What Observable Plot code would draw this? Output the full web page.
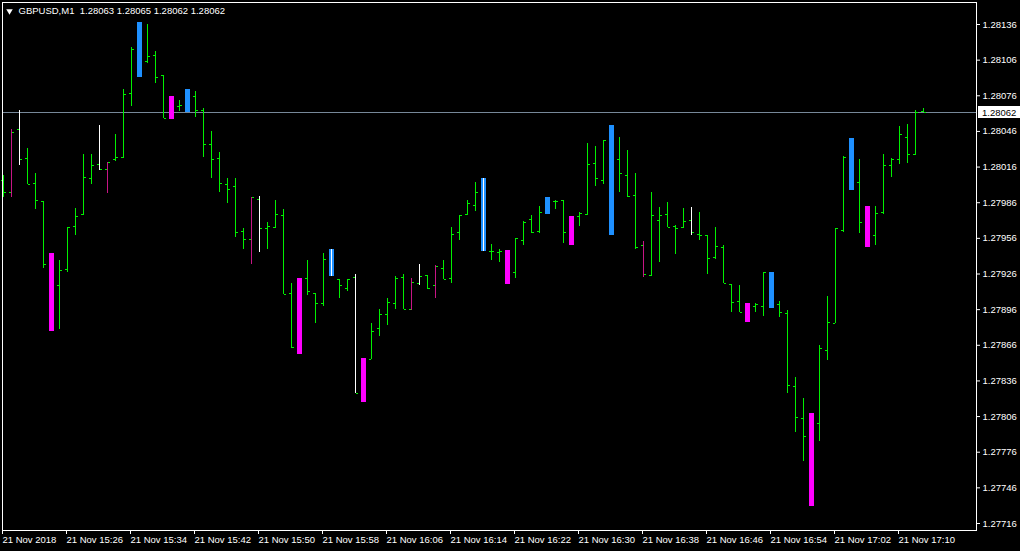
<!DOCTYPE html>
<html><head><meta charset="utf-8">
<script src="https://cdn.jsdelivr.net/npm/d3@7"></script>
<script src="https://cdn.jsdelivr.net/npm/@observablehq/plot@0.6"></script>
<style>html,body{margin:0;padding:0;background:#000;overflow:hidden}</style>
</head><body><div id="chart"></div>
<script>
const symbolName = "GBPUSD,M1";

const open = [
1.28005,1.27995,1.28048,1.28023,1.28002,1.27987,1.27934,1.27916,1.27930,1.27966,
1.27976,1.28006,1.28018,1.28014,1.28022,1.28024,1.28078,1.28115,1.28105,1.28110,
1.28093,1.28070,1.28067,1.28066,1.28075,1.28064,1.28035,1.28023,1.28001,1.28000,
1.27962,1.27955,1.27989,1.27964,1.27965,1.27975,1.27910,1.27870,1.27922,1.27910,
1.27901,1.27938,1.27921,1.27914,1.27923,1.27826,1.27854,1.27880,1.27892,1.27901,
1.27923,1.27896,1.27918,1.27925,1.27916,1.27931,1.27922,1.27961,1.27976,1.27984,
1.27995,1.27945,1.27944,1.27945,1.27927,1.27954,1.27972,1.27962,1.27978,1.27987,
1.27988,1.27961,1.27974,1.27976,1.28019,1.28005,1.28038,1.28022,1.28009,1.27992,
1.27950,1.27925,1.27971,1.27976,1.27966,1.27965,1.27971,1.27959,1.27958,1.27940,
1.27948,1.27917,1.27903,1.27895,1.27899,1.27899,1.27925,1.27900,1.27893,1.27831,
1.27804,1.27789,1.27800,1.27862,1.27884,1.27963,1.28024,1.28003,1.27968,1.27958,
1.27978,1.28017,1.28022,1.28041,1.28027,1.28063];

const high = [
1.28009,1.28048,1.28064,1.28032,1.28011,1.27987,1.27943,1.27937,1.27965,1.27981,
1.28027,1.28027,1.28051,1.28020,1.28043,1.28081,1.28117,1.28138,1.28136,1.28113,
1.28093,1.28075,1.28072,1.28081,1.28080,1.28065,1.28046,1.28028,1.28006,1.28006,
1.27964,1.27990,1.27991,1.27969,1.27988,1.27980,1.27918,1.27922,1.27937,1.27910,
1.27943,1.27947,1.27921,1.27921,1.27926,1.27855,1.27884,1.27896,1.27905,1.27924,
1.27926,1.27922,1.27934,1.27925,1.27933,1.27937,1.27965,1.27975,1.27988,1.28003,
1.28006,1.27951,1.27947,1.27946,1.27956,1.27970,1.27975,1.27983,1.27990,1.27988,
1.27988,1.27974,1.27978,1.28036,1.28033,1.28038,1.28051,1.28041,1.28030,1.28011,
1.27953,1.27995,1.27982,1.27986,1.27967,1.27981,1.27982,1.27978,1.27958,1.27965,
1.27950,1.27917,1.27916,1.27901,1.27901,1.27927,1.27927,1.27903,1.27895,1.27839,
1.27821,1.27809,1.27866,1.27907,1.27964,1.28025,1.28040,1.28022,1.27983,1.27983,
1.28027,1.28023,1.28050,1.28052,1.28064,1.28065];

const low = [
1.27990,1.27990,1.28017,1.28001,1.27980,1.27931,1.27878,1.27879,1.27927,1.27958,
1.27975,1.28001,1.28013,1.27994,1.28021,1.28023,1.28067,1.28091,1.28103,1.28086,
1.28057,1.28056,1.28063,1.28062,1.28058,1.28024,1.28006,1.27995,1.27985,1.27957,
1.27947,1.27934,1.27944,1.27947,1.27964,1.27909,1.27863,1.27858,1.27908,1.27884,
1.27899,1.27924,1.27905,1.27911,1.27825,1.27818,1.27854,1.27873,1.27883,1.27896,
1.27896,1.27895,1.27916,1.27913,1.27905,1.27921,1.27918,1.27954,1.27975,1.27979,
1.27945,1.27937,1.27936,1.27917,1.27922,1.27950,1.27960,1.27960,1.27976,1.27980,
1.27952,1.27950,1.27966,1.27975,1.28000,1.28001,1.27958,1.27995,1.27990,1.27947,
1.27923,1.27924,1.27936,1.27965,1.27942,1.27964,1.27958,1.27954,1.27926,1.27938,
1.27918,1.27894,1.27894,1.27885,1.27894,1.27890,1.27897,1.27889,1.27825,1.27793,
1.27768,1.27730,1.27785,1.27853,1.27884,1.27961,1.27996,1.27960,1.27948,1.27950,
1.27976,1.28007,1.28018,1.28019,1.28026,1.28062];

const close = [
1.27995,1.28045,1.28022,1.28001,1.27988,1.27934,1.27916,1.27929,1.27965,1.27974,
1.28007,1.28017,1.28014,1.28020,1.28024,1.28077,1.28115,1.28105,1.28109,1.28091,
1.28057,1.28060,1.28068,1.28078,1.28064,1.28035,1.28022,1.28002,1.27997,1.27961,
1.27955,1.27990,1.27964,1.27966,1.27976,1.27909,1.27864,1.27915,1.27911,1.27901,
1.27938,1.27930,1.27916,1.27921,1.27825,1.27853,1.27878,1.27892,1.27902,1.27922,
1.27896,1.27919,1.27924,1.27914,1.27932,1.27921,1.27959,1.27975,1.27985,1.27995,
1.27952,1.27945,1.27945,1.27922,1.27956,1.27969,1.27961,1.27978,1.27988,1.27987,
1.27961,1.27956,1.27977,1.28018,1.28006,1.28038,1.28020,1.28011,1.27991,1.27948,
1.27926,1.27975,1.27975,1.27965,1.27964,1.27970,1.27961,1.27958,1.27939,1.27949,
1.27918,1.27902,1.27894,1.27899,1.27900,1.27927,1.27900,1.27894,1.27832,1.27805,
1.27789,1.27800,1.27863,1.27885,1.27964,1.28024,1.28005,1.27969,1.27958,1.27977,
1.28017,1.28022,1.28043,1.28027,1.28062,1.28062];

// bar highlight kind: g = plain bar, w = white range, p = purple range,
// b = blue block, bw = blue block with white range, m = magenta block
const kind = (
"g p w g g g m g g g " +
"g g w p g g g b g g " +
"g m g b g g g g g g " +
"g p w g g g g m g g " +
"g bw g g w m g g g g " +
"g p w g p g g g g g " +
"bw g g m g g g g b g " +
"g m g g g g b g g g " +
"p g g g g g w g g g " +
"g g g m g g b g g g " +
"g m g g g g b g m g " +
"g g g g g g").trim().split(/\s+/);

const timeTickBars = [0,8,16,24,32,40,48,56,64,72,80,88,96,104,112];
const timeLabels = ["21 Nov 2018","21 Nov 15:26","21 Nov 15:34","21 Nov 15:42","21 Nov 15:50",
  "21 Nov 15:58","21 Nov 16:06","21 Nov 16:14","21 Nov 16:22","21 Nov 16:30","21 Nov 16:38",
  "21 Nov 16:46","21 Nov 16:54","21 Nov 17:02","21 Nov 17:10"];
const priceTicks = [1.28136,1.28106,1.28076,1.28046,1.28016,1.27986,1.27956,1.27926,
  1.27896,1.27866,1.27836,1.27806,1.27776,1.27746,1.27716];

const bars = open.map((o, i) => ({i, open: o, high: high[i], low: low[i], close: close[i], kind: kind[i]}));
const thin = bars.filter(d => d.kind === "g" || d.kind === "w" || d.kind === "p");
const thick = bars.filter(d => d.kind === "b" || d.kind === "bw" || d.kind === "m");
const last = bars[bars.length - 1];
const f5 = v => v.toFixed(5);

const GREEN = "#00f000";
const lineColor = {g: GREEN, w: "#ffffff", p: "#c71585"};
const blockColor = {b: "#1e90ff", bw: "#1e90ff", m: "#ff00ff"};
const FONT = "'Liberation Sans', Arial, sans-serif";
const crisp = {shapeRendering: "crispEdges"};

const W = 1020, H = 551, ML = 2, MT = 2, MR = 44, MB = 21;

const chart = Plot.plot({
  width: W, height: H,
  marginLeft: ML, marginTop: MT, marginRight: MR, marginBottom: MB,
  style: {background: "#000", color: "#fff", fontFamily: FONT, fontSize: "9.5px"},
  x: {type: "band", domain: bars.map(d => d.i), range: [-1, 927], padding: 0, round: false},
  y: {domain: [1.27716, 1.28136], range: [523, 24]},
  marks: [
    Plot.ruleY([last.close], {stroke: "#778899", ...crisp}),
    Plot.ruleX(thin, {x: "i", y1: "low", y2: "high", stroke: d => lineColor[d.kind], ...crisp}),
    Plot.tickY(thin, {x: "i", y: "open", stroke: GREEN, insetLeft: 2, insetRight: 4, ...crisp}),
    Plot.tickY(thin, {x: "i", y: "close", stroke: GREEN, insetLeft: 5, insetRight: 1, ...crisp}),
    Plot.barY(thick, {x: "i", y1: "low", y2: "high", fill: d => blockColor[d.kind], insetLeft: 2, insetRight: 1, ...crisp}),
    Plot.ruleX(thick.filter(d => d.kind === "bw"), {x: "i", y1: "low", y2: "high", stroke: "#ffffff", ...crisp}),
    Plot.frame({stroke: "#fff", ...crisp}),
    Plot.axisX({ticks: timeTickBars, tickFormat: d => timeLabels[timeTickBars.indexOf(d)],
      tickSize: 4, tickPadding: 2, textAnchor: "start", dx: -1, label: null, fill: "#fff", stroke: "#fff"}),
    Plot.axisY({anchor: "right", ticks: priceTicks, tickFormat: f5, tickSize: 3, tickPadding: 3,
      label: null, fill: "#fff", stroke: "#fff"}),
    Plot.dot([0], {frameAnchor: "top-left", dx: 7, dy: 8.5, symbol: "triangle", r: 2.4, rotate: 180, fill: "#fff", stroke: null}),
    Plot.text([`${symbolName}\u00a0\u00a0${f5(last.open)} ${f5(last.high)} ${f5(last.low)} ${f5(last.close)}`],
      {text: d => d, frameAnchor: "top-left", dx: 16, dy: 5, textAnchor: "start", lineAnchor: "top", fill: "#fff"})
  ]
});

// current price label box on the price axis
const yPx = chart.scale("y").apply(last.close);
const svg = d3.select(chart);
const g = svg.append("g").attr("text-anchor", "start");
g.append("rect").attr("x", W - MR + 2).attr("y", yPx - 5.5).attr("width", MR - 2).attr("height", 12)
  .attr("fill", "#fff").attr("shape-rendering", "crispEdges");
g.append("text").attr("x", W - MR + 6).attr("y", yPx + 0.5).attr("dy", "0.35em").attr("text-anchor", "start")
  .attr("fill", "#000").attr("font-family", FONT).attr("font-size", "9.5px").text(f5(last.close));

document.getElementById("chart").appendChild(chart);
</script>
</body></html>
